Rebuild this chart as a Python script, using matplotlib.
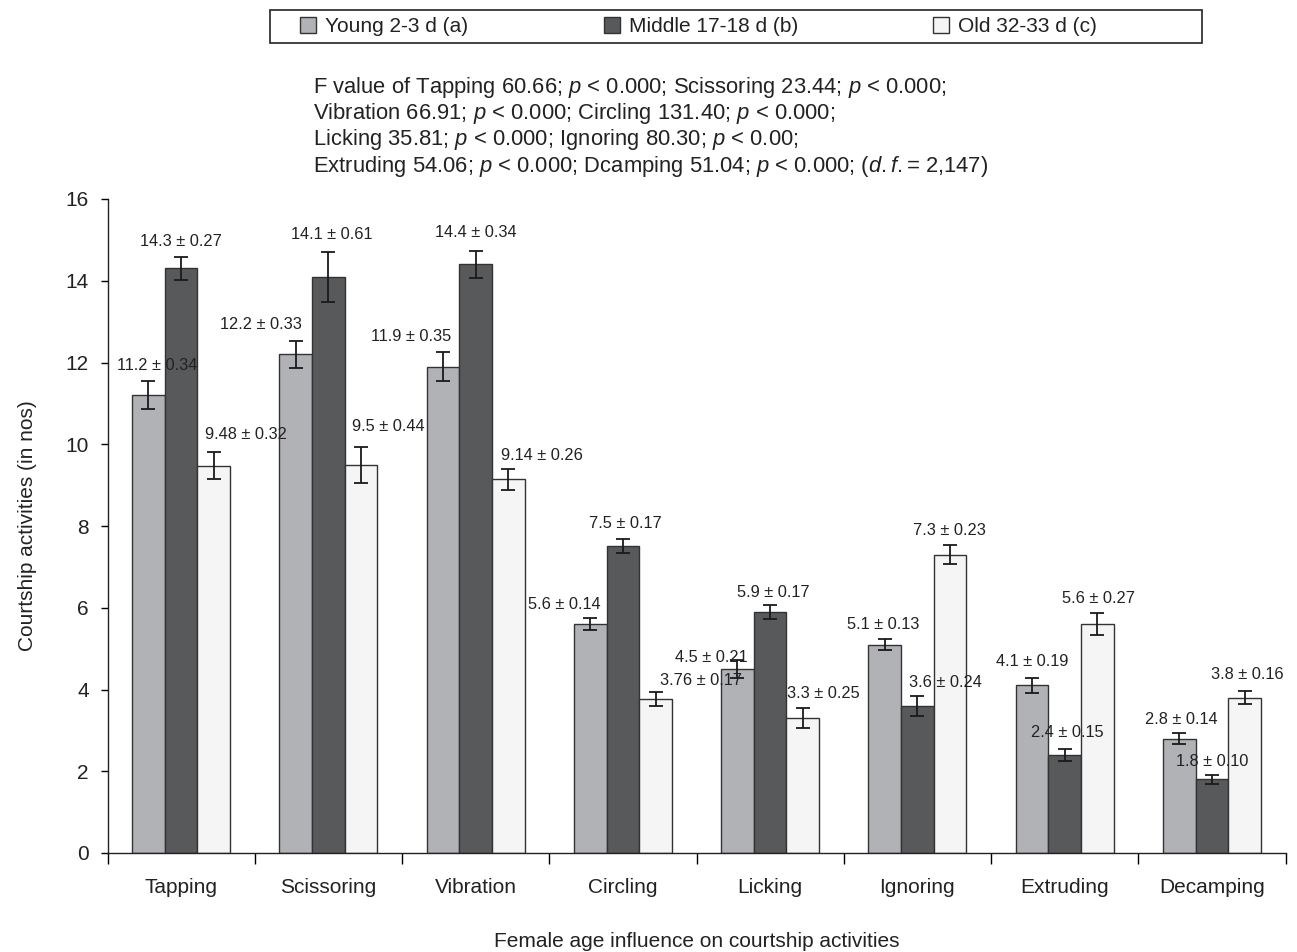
import numpy as np
import matplotlib
matplotlib.use("Agg")
import matplotlib.pyplot as plt
from matplotlib.patches import Patch, Rectangle

plt.rcParams['font.family'] = ['Liberation Sans', 'DejaVu Sans']
plt.rcParams['mathtext.fontset'] = 'custom'
plt.rcParams['mathtext.rm'] = 'Liberation Sans'
plt.rcParams['mathtext.it'] = 'Liberation Sans:italic'

# Courtship activity means and standard errors by female age
activities = ["Tapping", "Scissoring", "Vibration", "Circling",
              "Licking", "Ignoring", "Extruding", "Decamping"]
groups = ["Young 2-3 d (a)", "Middle 17-18 d (b)", "Old 32-33 d (c)"]
young_mean = [11.2, 12.2, 11.9, 5.6, 4.5, 5.1, 4.1, 2.8]
young_se = [0.34, 0.33, 0.35, 0.14, 0.21, 0.13, 0.19, 0.14]
middle_mean = [14.3, 14.1, 14.4, 7.5, 5.9, 3.6, 2.4, 1.8]
middle_se = [0.27, 0.61, 0.34, 0.17, 0.17, 0.24, 0.15, 0.10]
old_mean = [9.48, 9.5, 9.14, 3.76, 3.3, 7.3, 5.6, 3.8]
old_se = [0.32, 0.44, 0.26, 0.17, 0.25, 0.23, 0.27, 0.16]
# printed precision of the old-group means
old_fmt = ["{:.2f}", "{:.1f}", "{:.2f}", "{:.2f}", "{:.1f}", "{:.1f}", "{:.1f}", "{:.1f}"]

colors = ["#b1b2b6", "#58595b", "#f5f5f5"]

# hand-placed label positions (x in category units, y in data units)
label_pos = [
    [(-0.16, 11.92), (0.54, 12.92), (1.56, 12.63), (2.60, 6.08),
     (3.60, 4.79), (4.77, 5.59), (5.78, 4.69), (6.79, 3.27)],
    [(0.00, 14.97), (1.02, 15.14), (2.00, 15.17), (3.02, 8.06),
     (4.02, 6.38), (5.19, 4.18), (6.02, 2.96), (7.00, 2.25)],
    [(0.44, 10.23), (1.41, 10.43), (2.45, 9.72), (3.53, 4.23),
     (4.36, 3.91), (5.22, 7.89), (6.23, 6.23), (7.24, 4.37)],
]

W, H = 1297, 952
fig = plt.figure(figsize=(W / 100, H / 100), dpi=100)
ax = fig.add_axes([107.5 / W, 1 - 853 / H, 1178 / W, 654 / H])

x = np.arange(len(activities))
w = 0.222
means = [young_mean, middle_mean, old_mean]
ses = [young_se, middle_se, old_se]
txt = "#222222"
big = 15

for i, (m, s) in enumerate(zip(means, ses)):
    ax.bar(x + (i - 1) * w, m, w, color=colors[i], edgecolor="#333333",
           linewidth=1.0, zorder=2)
    ax.errorbar(x + (i - 1) * w, m, yerr=s, fmt="none", ecolor="#1a1a1a",
                elinewidth=1.3, capsize=4.7, capthick=1.3, zorder=3)
    for j in range(len(activities)):
        val = old_fmt[j].format(m[j]) if i == 2 else "{:.1f}".format(m[j])
        lx, ly = label_pos[i][j]
        ax.text(lx, ly, "{} ± {:.2f}".format(val, s[j]), ha="center",
                va="center", fontsize=11.8, color=txt, zorder=4)

ax.set_xlim(-0.5, len(activities) - 0.5)
ax.set_ylim(0, 16)
ax.set_yticks(np.arange(0, 17, 2))
ax.set_xticks(x)
ax.set_xticklabels(activities)
ax.set_xticks(np.arange(-0.5, len(activities)), minor=True)
ax.tick_params(axis="x", which="major", length=0, pad=18, labelsize=big, labelcolor=txt)
ax.tick_params(axis="x", which="minor", length=8, width=1, direction="out")
ax.tick_params(axis="y", length=5, width=1, direction="out", pad=8.5,
               labelsize=big, labelcolor=txt)
for side in ["top", "right"]:
    ax.spines[side].set_visible(False)
for side in ["left", "bottom"]:
    ax.spines[side].set_linewidth(1.0)
    ax.spines[side].set_color("#222222")

fig.text(28 / W, 1 - 526 / H, "Courtship activities (in nos)", rotation=90,
         ha="center", va="center", fontsize=big, color=txt)
fig.text(ax.get_position().x0 + ax.get_position().width / 2, 1 - 947 / H,
         "Female age influence on courtship activities", ha="center",
         va="baseline", fontsize=big, color=txt)

# ANOVA summary
stats_lines = [
    r"F value of Tapping 60.66; $\it{p}$ < 0.000; Scissoring 23.44; $\it{p}$ < 0.000;",
    r"Vibration 66.91; $\it{p}$ < 0.000; Circling 131.40; $\it{p}$ < 0.000;",
    r"Licking 35.81; $\it{p}$ < 0.000; Ignoring 80.30; $\it{p}$ < 0.00;",
    r"Extruding 54.06; $\it{p}$ < 0.000; Dcamping 51.04; $\it{p}$ < 0.000; ($\it{d.f.}$= 2,147)",
]
for k, line in enumerate(stats_lines):
    fig.text(313 / W, 1 - (87 + k * 26.5) / H, line, fontsize=15.8,
             color=txt, va="center", ha="left")

# legend box across the top
fig.patches.append(Rectangle((270 / W, 1 - 43 / H), 932 / W, 33 / H,
                             transform=fig.transFigure, fill=False,
                             edgecolor="#222222", linewidth=1.2))
handles = [Patch(facecolor=c, edgecolor="#333333", linewidth=1.0) for c in colors]
leg = fig.legend(handles, groups, loc="center left",
                 bbox_to_anchor=(300 / W, 1 - 26.5 / H), ncol=3,
                 frameon=False, fontsize=big, handlelength=0.77,
                 handleheight=0.77, handletextpad=0.43, columnspacing=6.5,
                 borderpad=0, borderaxespad=0)
for t in leg.get_texts():
    t.set_color(txt)

fig.savefig("out.png", dpi=100)
